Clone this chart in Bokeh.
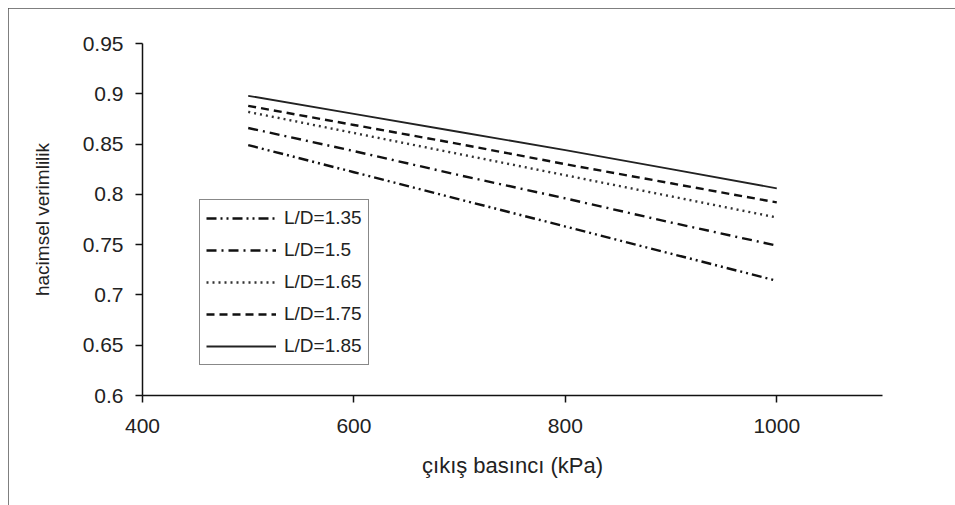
from bokeh.plotting import figure
from bokeh.models import FixedTicker, Legend, LegendItem
from bokeh.embed import file_html
from bokeh.resources import INLINE

# ---- data ----
pressure = [500, 600, 700, 800, 900, 1000]
ld_135 = [0.849, 0.822, 0.795, 0.768, 0.741, 0.714]
ld_150 = [0.866, 0.843, 0.819, 0.796, 0.772, 0.749]
ld_165 = [0.882, 0.861, 0.840, 0.819, 0.798, 0.777]
ld_175 = [0.888, 0.869, 0.850, 0.830, 0.811, 0.792]
ld_185 = [0.898, 0.880, 0.862, 0.844, 0.825, 0.806]
series_names = ["L/D=1.35", "L/D=1.5", "L/D=1.65", "L/D=1.75", "L/D=1.85"]

x_ticks = [400, 600, 800, 1000]
y_ticks = [0.6, 0.65, 0.7, 0.75, 0.8, 0.85, 0.9, 0.95]
y_tick_labels = ["0.6", "0.65", "0.7", "0.75", "0.8", "0.85", "0.9", "0.95"]

FONT = "Liberation Sans"

p = figure(
    frame_width=740, frame_height=352,
    min_border_left=134, min_border_right=73, min_border_top=35, min_border_bottom=110,
    x_range=(400, 1100), y_range=(0.6, 0.95),
    output_backend="svg", toolbar_location=None,
)
p.styles = {"margin": "8px 0 0 8px", "outline": "2px solid #555555", "outline-offset": "-2px"}
p.outline_line_color = None
p.xgrid.visible = False
p.ygrid.visible = False
p.background_fill_color = "white"
p.border_fill_color = "white"

styles = [
    dict(line_dash="10 4 2 4 2 4", line_color="#111111", line_width=2.4),
    dict(line_dash="10 5 2 5", line_color="#111111", line_width=2.4),
    dict(line_dash="2 4", line_color="#333333", line_width=2.4),
    dict(line_dash="8 5", line_color="#111111", line_width=2.4),
    dict(line_dash="solid", line_color="#222222", line_width=1.8),
]
data = [ld_135, ld_150, ld_165, ld_175, ld_185]
items = []
for name, ys, st in zip(series_names, data, styles):
    r = p.line(pressure, ys, **st)
    items.append(LegendItem(label=name, renderers=[r]))

legend = Legend(
    items=items, location=(57, 30),
    glyph_width=70, glyph_height=24, spacing=8, padding=6, margin=0,
    label_standoff=8, label_text_font=FONT, label_text_font_size="19px",
    label_text_color="#222222",
    border_line_color="#111111", border_line_width=1.5,
    background_fill_color="white", background_fill_alpha=1.0,
)
p.add_layout(legend, "center")

for ax in (p.xaxis, p.yaxis):
    ax.axis_line_color = "#111111"
    ax.axis_line_width = 1.5
    ax.major_tick_line_color = "#111111"
    ax.major_tick_line_width = 1.5
    ax.major_tick_out = 7
    ax.major_tick_in = 0
    ax.minor_tick_line_color = None
    ax.major_label_text_font = FONT
    ax.major_label_text_font_size = "21px"
    ax.major_label_text_color = "#222222"
    ax.axis_label_text_font = FONT
    ax.axis_label_text_font_style = "normal"
    ax.axis_label_text_color = "#222222"

p.xaxis.ticker = FixedTicker(ticks=x_ticks)
p.yaxis.ticker = FixedTicker(ticks=y_ticks)
p.yaxis.major_label_overrides = {t: s for t, s in zip(y_ticks, y_tick_labels)}
p.xaxis.major_label_standoff = 16
p.yaxis.major_label_standoff = 12
p.xaxis.axis_label = "çıkış basıncı (kPa)"
p.yaxis.axis_label = "hacimsel verimlilik"
p.xaxis.axis_label_text_font_size = "22px"
p.yaxis.axis_label_text_font_size = "19px"
p.xaxis.axis_label_standoff = 17
p.yaxis.axis_label_standoff = 27

open("out.html", "w").write(file_html(p, INLINE))
